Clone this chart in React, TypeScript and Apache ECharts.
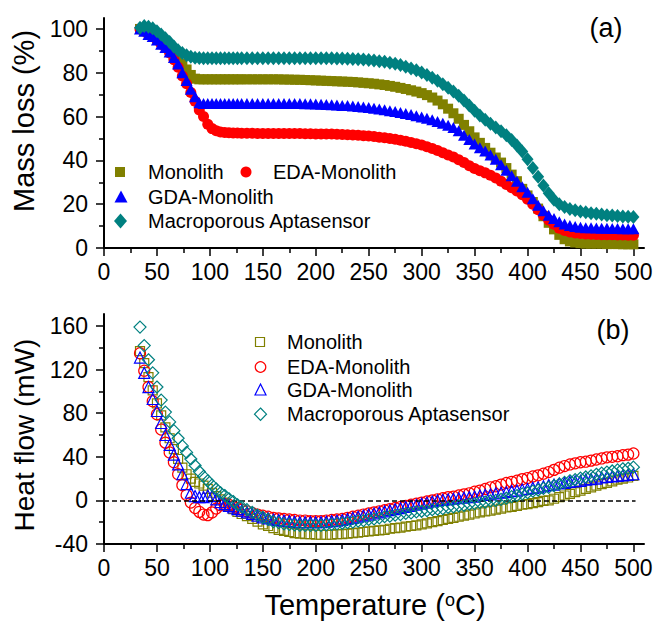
import React, { useEffect, useRef } from "react";
import * as echarts from "echarts";

// Sampling temperatures (°C) shared by both panels
const temperatures = [
  34, 38, 42, 46, 50, 54, 58, 62, 66, 70, 74, 78, 82, 86, 90, 94, 98, 102, 106, 110, 114, 118, 122, 126, 130,
  135, 140, 145, 150, 155, 160, 165, 170, 175, 180, 185, 190, 195, 200,
  205, 210, 215, 220, 225, 230, 235, 240, 245, 250, 255, 260, 265, 270, 275, 280, 285, 290, 295, 300,
  305, 310, 315, 320, 325, 330, 335, 340, 345, 350, 355, 360, 365, 370,
  375, 380, 385, 390, 395, 400, 405, 410, 415, 420, 425, 430, 435, 440, 445, 450, 455, 460, 465, 470, 475, 480, 485, 490, 495, 500,
];

// (a) TGA mass loss (%)
const massMonolith = [
  100, 99.5, 98.5, 97.5, 96, 94.5, 93, 91, 89, 86.5, 84, 81.5, 79, 77.3, 77, 77, 77, 77, 77, 77, 77, 77, 77, 77, 77,
  77, 77, 77, 77, 77, 77, 77, 76.9, 76.9, 76.8, 76.8, 76.7, 76.6, 76.5,
  76.4, 76.3, 76.2, 76.1, 76, 75.9, 75.8, 75.6, 75.4, 75.2, 75, 74.7, 74.4, 74, 73.6, 73.1, 72.6, 72, 71.4, 70.7,
  69.8, 68.7, 67.3, 65.6, 63.6, 61.5, 59, 56.2, 53.3, 50.5, 48, 45.7, 43.5, 41.3,
  39, 36.5, 33.5, 30.5, 27, 24, 21, 18, 14.5, 11.5, 8.5, 6, 4, 3, 2.5, 2.2, 2, 2, 2, 2, 1.8, 1.8, 1.8, 1.7, 1.7, 1.7,
];
const massEDA = [
  100, 99, 97.5, 96.5, 95, 93, 91.5, 89, 86, 82.5, 78.5, 75, 71, 67, 63, 60, 56.5, 54.5, 53.5, 53, 52.7, 52.6, 52.5, 52.5, 52.4,
  52.4, 52.4, 52.3, 52.3, 52.3, 52.3, 52.3, 52.3, 52.3, 52.3, 52.3, 52.2, 52.2, 52.1,
  52.1, 52, 52, 51.9, 51.8, 51.7, 51.6, 51.5, 51.3, 51.1, 50.9, 50.6, 50.3, 50, 49.6, 49.2, 48.7, 48.2, 47.6, 47,
  46.2, 45.4, 44.5, 43.5, 42.5, 41.5, 40.3, 39, 37.5, 36.3, 35.3, 34.3, 33.2, 32,
  30.5, 29, 27.5, 26, 24.3, 22.3, 20, 17.5, 15, 12.8, 10.8, 9, 8, 7.3, 6.9, 6.6, 6.4, 6.3, 6.2, 6.1, 6, 6, 5.9, 5.9, 5.8, 5.8,
];
const massGDA = [
  100, 99, 97.5, 96.5, 95, 93, 91.5, 89.5, 87, 84, 80, 76.5, 72.5, 69, 66.3, 66, 66, 66, 66, 66, 66, 66, 66, 66, 66,
  66, 66, 66, 66, 66, 66, 66, 66, 66, 66, 66, 65.9, 65.8, 65.7,
  65.6, 65.5, 65.4, 65.3, 65.1, 65, 64.8, 64.6, 64.4, 64.1, 63.8, 63.5, 63.1, 62.7, 62.3, 61.9, 61.4, 60.9, 60.4, 59.8,
  59.2, 58.5, 57.8, 57, 56, 55, 53.5, 51.5, 49.5, 47.5, 45.8, 44.3, 42.5, 40.5,
  38, 35.5, 33, 30.5, 28, 25.5, 22.5, 19.5, 17, 15, 13.5, 12, 11, 10.3, 9.8, 9.5, 9.3, 9.2, 9.1, 9, 9, 8.9, 8.9, 8.8, 8.8, 8.8,
];
const massAptasensor = [
  100.5, 101.3, 101, 100.3, 99, 97.5, 95.8, 94, 92, 90.3, 89, 88, 87.3, 86.9, 86.7, 86.6, 86.6, 86.6, 86.6, 86.6, 86.6, 86.6, 86.6, 86.6, 86.6,
  86.6, 86.6, 86.6, 86.6, 86.6, 86.6, 86.6, 86.6, 86.6, 86.6, 86.6, 86.6, 86.6, 86.6,
  86.6, 86.6, 86.6, 86.5, 86.5, 86.4, 86.3, 86.2, 86, 85.8, 85.6, 85.3, 85, 84.6, 84.1, 83.5, 82.8, 82, 81.1, 80.1,
  79, 77.7, 76.3, 74.8, 73.2, 71.5, 69.5, 67.3, 65, 62.7, 60.5, 58.5, 56.7, 55,
  53.3, 51.5, 49.3, 46.8, 44, 40.5, 36.5, 32.5, 28.5, 25, 22, 20, 18.7, 17.8, 17.2, 16.7, 16.3, 15.9, 15.6, 15.3, 15, 14.8, 14.6, 14.4, 14.3, 14.2,
];

// (b) DSC heat flow (mW)
const heatMonolith = [
  137, 126, 113, 101, 89, 78, 67, 57, 47, 38, 30, 24, 20, 17, 15.5, 13.5, 10.5, 7, 4, 1, -2, -5, -8, -10.5, -12.5,
  -14.5, -17, -19.5, -22, -23.5, -25.5, -27, -28, -29, -30, -30.5, -31, -31, -31.5,
  -31.5, -31.5, -31.5, -31, -31, -30.5, -30, -29.5, -29, -28.5, -28, -27.5, -27, -26, -25.5, -25, -24, -23.5, -23, -22,
  -21, -20, -19, -18, -17, -16, -15, -14, -13, -12, -11, -10, -9.5, -8.5,
  -7.5, -6.5, -6, -5, -4, -3.5, -2.5, -1.5, -0.5, 0, 1.5, 3, 4.5, 6, 7.5, 9, 10.5, 12, 13.5, 15, 16, 17.5, 19, 20, 21, 22.5,
];
const heatEDA = [
  135, 119, 104, 91, 79, 65, 53, 44, 35, 24, 14, 5, -2, -7, -10.5, -13, -13.5, -11, -7.5, -4.5, -3.5, -4, -5.5, -7, -8.5,
  -10, -11.5, -13, -14, -15, -16, -16.5, -17, -17.5, -18, -18.5, -18.5, -19, -19,
  -19, -18.5, -18, -17.5, -17, -16, -15, -14, -13, -12, -11, -10, -9, -8, -7, -6, -5, -4, -3, -2,
  -1, 0, 1, 2, 3, 3.5, 4.5, 5.5, 6.5, 8, 9, 10.5, 12, 13,
  14.5, 16, 17, 18, 19.5, 20.5, 22, 23, 24.5, 26, 28, 30, 31.5, 33, 34, 35, 35.5, 36.5, 37.5, 38.5, 39.5, 40, 40.5, 41.5, 42, 43,
];
const heatGDA = [
  131, 117, 104, 93, 82, 71, 60, 51, 42, 33, 24, 15, 7, 4, 3, 3, 4.5, 4, 1, -1.5, -3.5, -5, -6.5, -8, -9.5,
  -11, -12.5, -14, -15.5, -16.5, -17.5, -18, -18.5, -19, -19.5, -20, -20, -20, -20,
  -20, -19.5, -19, -18.5, -18, -17, -16, -15, -14, -13, -12, -11, -10, -9, -8, -7, -6, -5, -4, -3,
  -2, -1, 0, 0.5, 1, 1.5, 2, 2.5, 3, 3.5, 4.5, 5, 5.5, 6.5,
  7, 7.5, 8.5, 9, 10, 10.5, 11.5, 12, 13, 14, 14.5, 15.5, 16, 17, 17.5, 18, 19, 19.5, 20, 21, 21.5, 22, 22.5, 23, 23.5, 24,
];
const heatAptasensor = [
  159, 142, 129, 117, 104, 92, 81, 72, 64, 57, 50, 44, 38, 32, 26.5, 22, 18, 14, 10.5, 7, 4.5, 1.5, -1, -4, -6,
  -8.5, -11, -13.5, -15.5, -17.5, -19.5, -20.5, -21.5, -22, -22.5, -23, -23, -23, -23,
  -23, -22.5, -22, -21.5, -21, -20.5, -20, -19, -18.5, -17.5, -17, -16, -15, -14.5, -13.5, -13, -12, -11.5, -10.5, -10,
  -9.5, -8.5, -8, -7.5, -6.5, -6, -5, -4.5, -3.5, -3, -2, -1.5, -0.5, 0,
  1, 2, 3.5, 4.5, 6, 7, 8.5, 9.5, 11, 12, 13.5, 15, 16.5, 18, 19, 20.5, 21.5, 22.5, 24, 25, 26, 27, 28, 29, 29.5, 30.5,
];

// Axis ticks
const tempTicks = [0, 50, 100, 150, 200, 250, 300, 350, 400, 450, 500];
const tempMinorTicks = [25, 75, 125, 175, 225, 275, 325, 375, 425, 475];
const massTicks = [0, 20, 40, 60, 80, 100];
const massMinorTicks = [10, 30, 50, 70, 90];
const heatTicks = [-40, 0, 40, 80, 120, 160];
const heatMinorTicks = [-20, 20, 60, 100, 140];

const seriesNames = ["Monolith", "EDA-Monolith", "GDA-Monolith", "Macroporous Aptasensor"];
const seriesColors = ["#808000", "#ff0000", "#0000ff", "#008080"];

const FONT = "Arial, 'Liberation Sans', Helvetica, sans-serif";

const pairs = (vals: number[]) => temperatures.map((t, i) => [t, vals[i]]);

function majorAxis(gridIndex: number, min: number, max: number, ticks: number[], horizontal: boolean) {
  return {
    type: "value",
    gridIndex,
    min,
    max,
    position: horizontal ? "bottom" : "left",
    axisLine: { show: true, onZero: false, lineStyle: { color: "#000", width: 2 } },
    axisTick: { show: true, inside: false, length: 8, customValues: ticks, lineStyle: { color: "#000", width: 1.5 } },
    axisLabel: {
      show: true,
      customValues: ticks,
      color: "#000",
      fontSize: 23,
      fontFamily: FONT,
      margin: horizontal ? 12 : 16,
    },
    splitLine: { show: false },
  };
}

function minorAxis(gridIndex: number, min: number, max: number, ticks: number[], horizontal: boolean) {
  return {
    type: "value",
    gridIndex,
    min,
    max,
    position: horizontal ? "bottom" : "left",
    axisLine: { show: false, onZero: false },
    axisTick: { show: true, inside: false, length: 5, customValues: ticks, lineStyle: { color: "#000", width: 1.5 } },
    axisLabel: { show: false },
    splitLine: { show: false },
  };
}

function App() {
  const ref = useRef<HTMLDivElement>(null);

  useEffect(() => {
    if (!ref.current) return;
    const chart = echarts.init(ref.current, null, { renderer: "svg" });

    const massData = [massMonolith, massEDA, massGDA, massAptasensor];
    const heatData = [heatMonolith, heatEDA, heatGDA, heatAptasensor];
    const filledSymbols: any[] = [
      { symbol: "rect", size: 10 },
      { symbol: "circle", size: 11 },
      { symbol: "triangle", size: [12, 11] },
      { symbol: "diamond", size: [12, 14] },
    ];
    const hollowSymbols: any[] = [
      { symbol: "rect", size: 9 },
      { symbol: "circle", size: 11 },
      { symbol: "triangle", size: [11, 11] },
      { symbol: "diamond", size: [12, 12] },
    ];

    const topSeries = massData.map((vals, i) => ({
      type: "scatter",
      name: seriesNames[i],
      xAxisIndex: 0,
      yAxisIndex: 0,
      symbol: filledSymbols[i].symbol,
      symbolSize: filledSymbols[i].size,
      itemStyle: { color: seriesColors[i], opacity: 1 },
      data: pairs(vals),
      z: 2 + i,
    }));

    const bottomSeries: any[] = heatData.map((vals, i) => ({
      type: "scatter",
      name: seriesNames[i],
      xAxisIndex: 2,
      yAxisIndex: 2,
      symbol: hollowSymbols[i].symbol,
      symbolSize: hollowSymbols[i].size,
      itemStyle: { color: "rgba(0,0,0,0)", borderColor: seriesColors[i], borderWidth: 1.2, opacity: 1 },
      data: pairs(vals),
      z: 2 + i,
    }));
    bottomSeries[0].markLine = {
      silent: true,
      symbol: "none",
      label: { show: false },
      lineStyle: { color: "#000", type: [5, 3], width: 1.5 },
      data: [[{ coord: [0, 0] }, { coord: [502, 0] }]],
    };

    // Legend markers and labels
    const legendText = (text: string, x: number, y: number) => ({
      type: "text",
      x,
      y,
      style: { text, fill: "#000", fontSize: 20, fontFamily: FONT, align: "left", verticalAlign: "middle" },
    });
    const graphic: any[] = [
      // (a) legend
      { type: "rect", shape: { x: 115, y: 167, width: 10, height: 10 }, style: { fill: seriesColors[0] } },
      legendText(seriesNames[0], 148, 172),
      { type: "circle", shape: { cx: 246, cy: 172, r: 5.5 }, style: { fill: seriesColors[1] } },
      legendText(seriesNames[1], 273, 172),
      { type: "polygon", shape: { points: [[121, 190.5], [127.5, 202.5], [114.5, 202.5]] }, style: { fill: seriesColors[2] } },
      legendText(seriesNames[2], 148, 197),
      { type: "polygon", shape: { points: [[120.5, 213.5], [127, 221], [120.5, 228.5], [114, 221]] }, style: { fill: seriesColors[3] } },
      legendText(seriesNames[3], 148, 221),
      // (b) legend
      { type: "rect", shape: { x: 255.5, y: 337.5, width: 9, height: 9 }, style: { fill: "none", stroke: seriesColors[0], lineWidth: 1.2 } },
      legendText(seriesNames[0], 287, 342),
      { type: "circle", shape: { cx: 260.5, cy: 367, r: 5.3 }, style: { fill: "none", stroke: seriesColors[1], lineWidth: 1.2 } },
      legendText(seriesNames[1], 287, 367),
      { type: "polygon", shape: { points: [[260.5, 384], [266, 395], [255, 395]] }, style: { fill: "none", stroke: seriesColors[2], lineWidth: 1.2 } },
      legendText(seriesNames[2], 287, 390),
      { type: "polygon", shape: { points: [[260.5, 408], [266.5, 414.2], [260.5, 420.4], [254.5, 414.2]] }, style: { fill: "none", stroke: seriesColors[3], lineWidth: 1.2 } },
      legendText(seriesNames[3], 287, 414),
      // Panel labels
      { type: "text", x: 606, y: 28, style: { text: "(a)", fill: "#000", fontSize: 27, fontFamily: FONT, align: "center", verticalAlign: "middle" } },
      { type: "text", x: 613, y: 330, style: { text: "(b)", fill: "#000", fontSize: 27, fontFamily: FONT, align: "center", verticalAlign: "middle" } },
      // Axis titles
      { type: "text", x: 24, y: 121, rotation: Math.PI / 2, style: { text: "Mass loss (%)", fill: "#000", fontSize: 29, fontFamily: FONT, align: "center", verticalAlign: "middle" } },
      { type: "text", x: 24, y: 435, rotation: Math.PI / 2, style: { text: "Heat flow (mW)", fill: "#000", fontSize: 28, fontFamily: FONT, align: "center", verticalAlign: "middle" } },
      {
        type: "text",
        x: 375,
        y: 605,
        style: {
          text: "Temperature ({sup|o}C)",
          fill: "#000",
          fontSize: 29,
          fontFamily: FONT,
          align: "center",
          verticalAlign: "middle",
          rich: { sup: { fontSize: 18, fontFamily: FONT, fill: "#000", verticalAlign: "top" } },
        },
      },
    ];

    chart.setOption({
      animation: false,
      backgroundColor: "#fff",
      textStyle: { fontFamily: FONT },
      grid: [
        { left: 104, top: 18, width: 540, height: 230, outerBoundsMode: "none" },
        { left: 104, top: 314, width: 540, height: 230, outerBoundsMode: "none" },
      ],
      xAxis: [
        majorAxis(0, 0, 510, tempTicks, true),
        minorAxis(0, 0, 510, tempMinorTicks, true),
        majorAxis(1, 0, 510, tempTicks, true),
        minorAxis(1, 0, 510, tempMinorTicks, true),
      ],
      yAxis: [
        majorAxis(0, 0, 105, massTicks, false),
        minorAxis(0, 0, 105, massMinorTicks, false),
        majorAxis(1, -40, 171, heatTicks, false),
        minorAxis(1, -40, 171, heatMinorTicks, false),
      ],
      series: [...topSeries, ...bottomSeries],
      graphic,
    });

    return () => chart.dispose();
  }, []);

  return (
    <div
      ref={ref}
      style={{ position: "fixed", left: 0, top: 0, width: 654, height: 631, background: "#fff" }}
    />
  );
}

export default App;
